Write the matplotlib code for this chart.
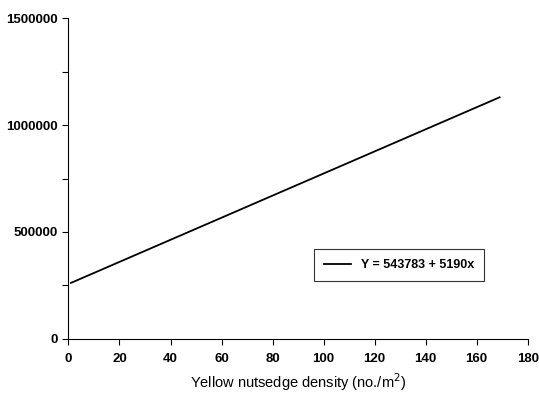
import matplotlib.pyplot as plt
from matplotlib.ticker import MultipleLocator, FormatStrFormatter

# fitted line as drawn
density = [1, 169]
yield_val = [262000, 1130000]
legend_label = 'Y = 543783 + 5190x'

plt.rcParams['font.family'] = ['Liberation Sans', 'DejaVu Sans']

fig = plt.figure(figsize=(5.39, 3.95), dpi=100)
ax = fig.add_axes([0.127, 0.142, 0.852, 0.812])

ax.plot(density, yield_val, color='black', lw=1.3, label=legend_label)

ax.set_xlim(0, 180)
ax.set_ylim(0, 1500000)
ax.xaxis.set_major_locator(MultipleLocator(20))
ax.yaxis.set_major_locator(MultipleLocator(500000))
ax.yaxis.set_minor_locator(MultipleLocator(250000))
ax.yaxis.set_major_formatter(FormatStrFormatter('%d'))
ax.tick_params(axis='both', which='both', direction='out', length=4, width=0.8,
               labelsize=9.5)
ax.tick_params(axis='x', pad=6)
for lab in ax.get_xticklabels() + ax.get_yticklabels():
    lab.set_fontweight('bold')

ax.spines['top'].set_visible(False)
ax.spines['right'].set_visible(False)

ax.set_xlabel('Yellow nutsedge density (no./m$^2$)', fontsize=10.5, labelpad=5)

leg = ax.legend(loc='upper left', bbox_to_anchor=(0.52, 0.30), frameon=True,
                fancybox=False, edgecolor='black', handlelength=2.2,
                borderpad=0.8, prop={'size': 9, 'weight': 'bold'})
leg.get_frame().set_linewidth(0.8)

fig.savefig('out.png', dpi=100)
